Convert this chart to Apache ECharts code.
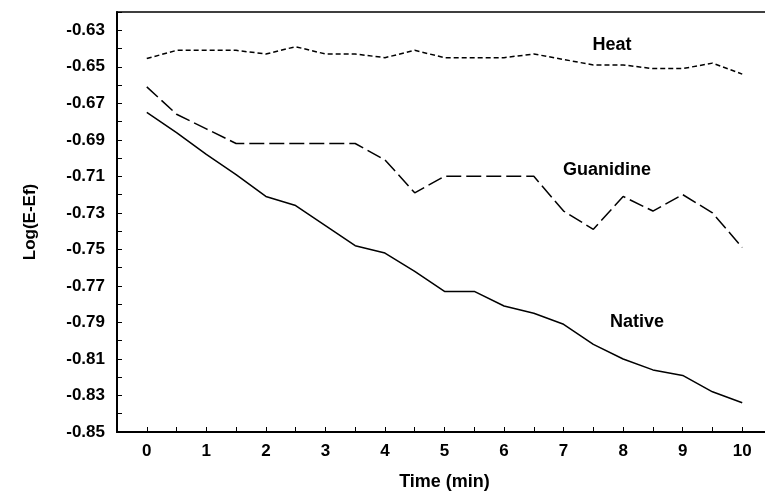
<!DOCTYPE html>
<html>
<head>
<meta charset="utf-8">
<script src="https://cdn.jsdelivr.net/npm/echarts@6/dist/echarts.min.js"></script>
<style>
  html, body { margin: 0; padding: 0; background: #fff; }
  #chart { width: 765px; height: 493px; }
</style>
</head>
<body>
<div id="chart"></div>
<script>
// time points (min)
const times = [0, 0.5, 1, 1.5, 2, 2.5, 3, 3.5, 4, 4.5, 5, 5.5, 6, 6.5, 7, 7.5, 8, 8.5, 9, 9.5, 10]

// Log(E-Ef) values
const heat = [-0.6455, -0.641, -0.641, -0.641, -0.643, -0.639, -0.643, -0.643, -0.645, -0.641, -0.645,
  -0.645, -0.645, -0.643, -0.646, -0.649, -0.649, -0.651, -0.651, -0.648, -0.654]
const guanidine = [-0.661, -0.676, -0.684, -0.692, -0.692, -0.692, -0.692, -0.692, -0.701, -0.719, -0.710,
  -0.710, -0.710, -0.710, -0.729, -0.739, -0.721, -0.729, -0.720, -0.730, -0.749]
const native = [-0.675, -0.686, -0.698, -0.709, -0.721, -0.726, -0.737, -0.748, -0.752, -0.762, -0.773,
  -0.773, -0.781, -0.785, -0.791, -0.802, -0.810, -0.816, -0.819, -0.828, -0.834]

const seriesNames = ['Heat', 'Guanidine', 'Native']

const pairs = arr => times.map((t, i) => [t, arr[i]])

const myChart = echarts.init(document.querySelector('#chart'))

const font = 'Liberation Sans, Arial, Helvetica, sans-serif'

const option = {
  animation: false,
  backgroundColor: '#fff',
  grid: {
    left: 117,
    right: -7,
    top: 12,
    bottom: 61,
    outerBoundsMode: 'none',
    show: true,
    borderColor: '#000',
    borderWidth: 1.5
  },
  xAxis: {
    type: 'value',
    min: -0.5,
    max: 10.5,
    interval: 0.5,
    name: 'Time (min)',
    nameLocation: 'middle',
    nameGap: 41,
    nameTextStyle: { fontFamily: font, fontWeight: 'bold', fontSize: 18, color: '#000' },
    axisLine: { onZero: false, lineStyle: { color: '#000', width: 2 } },
    axisTick: { inside: true, length: 5, lineStyle: { color: '#000', width: 1 } },
    splitLine: { show: false },
    axisLabel: {
      margin: 11,
      fontFamily: font,
      fontWeight: 'bold',
      fontSize: 17,
      color: '#000',
      formatter: v => (Math.abs(v - Math.round(v)) < 1e-6 && v >= 0 && v <= 10) ? String(Math.round(v)) : ''
    }
  },
  yAxis: {
    type: 'value',
    min: -0.85,
    max: -0.62,
    interval: 0.01,
    name: 'Log(E-Ef)',
    nameLocation: 'middle',
    nameGap: 78,
    nameTextStyle: { fontFamily: font, fontWeight: 'bold', fontSize: 17, color: '#000' },
    axisLine: { onZero: false, lineStyle: { color: '#000', width: 2 } },
    axisTick: { inside: true, length: 5, lineStyle: { color: '#000', width: 1 } },
    splitLine: { show: false },
    axisLabel: {
      margin: 12,
      fontFamily: font,
      fontWeight: 'bold',
      fontSize: 17,
      color: '#000',
      formatter: v => {
        const k = Math.round(-v * 100)
        return (k % 2 === 1 && k >= 63) ? v.toFixed(2) : ''
      }
    }
  },
  series: [
    {
      name: seriesNames[0],
      type: 'line',
      data: pairs(heat),
      showSymbol: false,
      lineStyle: { color: '#000', width: 1.5, type: [5, 3] }
    },
    {
      name: seriesNames[1],
      type: 'line',
      data: pairs(guanidine),
      showSymbol: false,
      lineStyle: { color: '#000', width: 1.5, type: [15, 5] }
    },
    {
      name: seriesNames[2],
      type: 'line',
      data: pairs(native),
      showSymbol: false,
      lineStyle: { color: '#000', width: 1.5 }
    }
  ],
  // 曲线旁的文字
  graphic: [
    { type: 'text', x: 612, y: 45, style: { text: seriesNames[0], fill: '#000', font: 'bold 18px ' + font, align: 'center', verticalAlign: 'middle' } },
    { type: 'text', x: 607, y: 170, style: { text: seriesNames[1], fill: '#000', font: 'bold 18px ' + font, align: 'center', verticalAlign: 'middle' } },
    { type: 'text', x: 637, y: 322, style: { text: seriesNames[2], fill: '#000', font: 'bold 18px ' + font, align: 'center', verticalAlign: 'middle' } }
  ]
}

myChart.setOption(option)
</script>
</body>
</html>
